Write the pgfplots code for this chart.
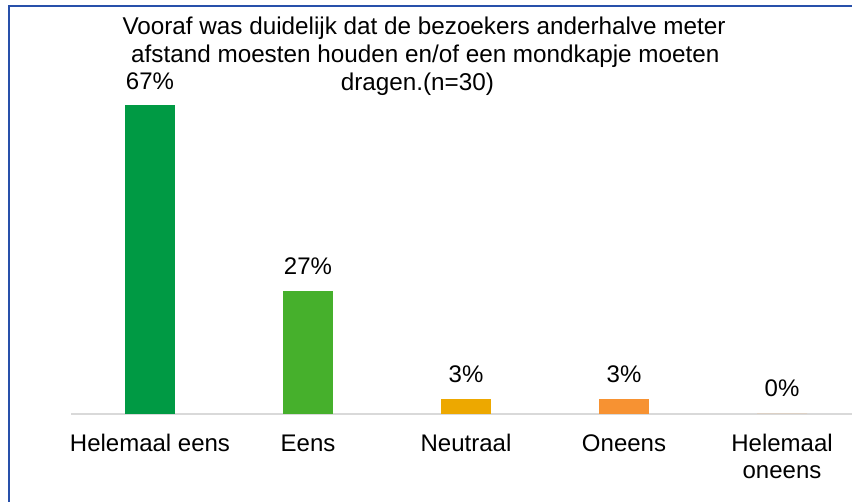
\documentclass[border=0pt]{standalone}
\usepackage{pgfplots}
\pgfplotsset{compat=1.18}
\usepackage{fontspec}
\setmainfont{Liberation Sans}
\definecolor{c1}{RGB}{0,154,68}
\definecolor{c2}{RGB}{70,176,44}
\definecolor{c3}{RGB}{237,168,0}
\definecolor{c4}{RGB}{247,146,50}
\definecolor{frame}{RGB}{40,80,170}
\definecolor{axisgray}{RGB}{217,217,217}
\begin{document}
\begin{tikzpicture}
\path[use as bounding box] (0,0) rectangle (639pt,376.5pt);
\fill[white] (0,0) rectangle (639pt,376.5pt);
\draw[frame, line width=1.5pt] (6.75pt,0) -- (6.75pt,372pt) -- (639pt,372pt);
\node[anchor=base, font=\fontsize{18.2pt}{21pt}\selectfont] at (318pt,350.25pt) {Vooraf was duidelijk dat de bezoekers anderhalve meter};
\node[anchor=base, font=\fontsize{18.2pt}{21pt}\selectfont] at (319pt,329.25pt) {afstand moesten houden en/of een mondkapje moeten};
\node[anchor=base, font=\fontsize{18.2pt}{21pt}\selectfont] at (313pt,308.25pt) {dragen.(n=30)};
\begin{axis}[
  at={(53.25pt,66pt)}, anchor=south west,
  scale only axis, width=585.75pt, height=277.8pt,
  xmin=-0.5, xmax=4.443, ymin=0, ymax=80,
  axis x line*=bottom, axis y line=none,
  x axis line style={-, draw=axisgray, line width=1.5pt},
  xtick={0,1,2,3,4},
  xticklabels={Helemaal eens, Eens, Neutraal, Oneens, {\begin{tabular}[t]{@{}c@{}}Helemaal\\oneens\end{tabular}}},
  major tick length=0pt, xtick style={draw=none},
  xticklabel style={font=\fontsize{18pt}{20.25pt}\selectfont, anchor=base, yshift=-28.5pt},
  ybar, bar width=37.5pt, bar shift=0pt,
  point meta=explicit symbolic,
  nodes near coords,
  every node near coord/.append style={font=\fontsize{18pt}{21pt}\selectfont, yshift=8pt},
  clip=false,
]
\addplot[fill=c1, draw=none] coordinates {(0,66.67) [67\%]};
\addplot[fill=c2, draw=none] coordinates {(1,26.67) [27\%]};
\addplot[fill=c3, draw=none] coordinates {(2,3.33) [3\%]};
\addplot[fill=c4, draw=none] coordinates {(3,3.33) [3\%]};
\addplot[fill=c4, draw=none, every node near coord/.append style={yshift=1.5pt}] coordinates {(4,0) [0\%]};
\end{axis}
\end{tikzpicture}
\end{document}
